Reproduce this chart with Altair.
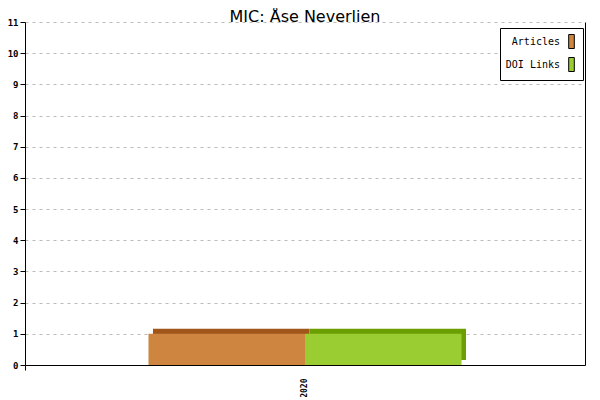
import altair as alt
import pandas as pd

years = ["2020", "2020"]
series = ["Articles", "DOI Links"]
values = [1, 1]
front_colors = ["#CD853F", "#9ACD32"]
dark_colors = ["#A0561A", "#6B9E00"]

df = pd.DataFrame({"year": years, "series": series, "value": values})

x_enc = alt.X("year:N", title=None,
              scale=alt.Scale(paddingInner=0, paddingOuter=0),
              axis=alt.Axis(labelAngle=-90, labelFont="DejaVu Sans Mono", labelFontSize=8,
                            labelFontWeight="bold",
                            labelColor="black", domainColor="black", tickColor="black",
                            tickSize=5, bandPosition=0, labelPadding=8, grid=False))
y_scale = alt.Scale(domain=[0, 11], nice=False)

back = alt.Chart(df).mark_bar(yOffset=-5).encode(
    x=x_enc,
    xOffset=alt.XOffset("series:N", scale=alt.Scale(paddingOuter=0.789, paddingInner=0,
                                                     align=0.5182)),
    y=alt.Y("value:Q", scale=y_scale, title=None,
            axis=alt.Axis(orient="right", labels=False, ticks=False, grid=False,
                          domainColor="black", title=None)),
    color=alt.Color("series:N", scale=alt.Scale(domain=series, range=dark_colors), legend=None),
)

front = alt.Chart(df).mark_bar().encode(
    x=x_enc,
    xOffset=alt.XOffset("series:N", scale=alt.Scale(paddingOuter=0.789, paddingInner=0)),
    y=alt.Y("value:Q", scale=y_scale, title=None,
            axis=alt.Axis(orient="left", values=list(range(0, 12)), labelFont="DejaVu Sans Mono",
                          labelFontSize=9, labelFontWeight="bold", labelColor="black",
                          domainColor="black", tickColor="black", tickSize=5, grid=True,
                          gridColor="#bbbbbb", gridDash=[3, 4], labelPadding=2)),
    color=alt.Color("series:N", scale=alt.Scale(domain=series, range=front_colors),
                    legend=alt.Legend(title=None, orient="none", legendX=475, legendY=6,
                                      strokeColor="black", fillColor="white", padding=6,
                                      labelFont="DejaVu Sans Mono", labelFontSize=10,
                                      labelColor="black", labelAlign="right",
                                      labelOffset={"expr": "-19"}, symbolOffset=58,
                                      symbolType="M-0.4,-1H0.4V1H-0.4Z", symbolSize=196,
                                      symbolStrokeColor="black", symbolStrokeWidth=1,
                                      rowPadding=4)),
)

chart = alt.layer(back, front).resolve_axis(y="independent").resolve_scale(
    color="independent", xOffset="independent").properties(
    width=560, height=343,
    autosize=alt.AutoSizeParams(type="none"),
    padding={"left": 17, "top": 14, "right": 7, "bottom": 32},
    title=alt.TitleParams("MIC: Åse Neverlien", font="DejaVu Sans", fontSize=16,
                          fontWeight="normal", color="black", offset=4, dy=11,
                          anchor="middle"),
).configure_view(stroke=None)

chart.save("out.html", embed_options={"renderer": "svg", "actions": False})
